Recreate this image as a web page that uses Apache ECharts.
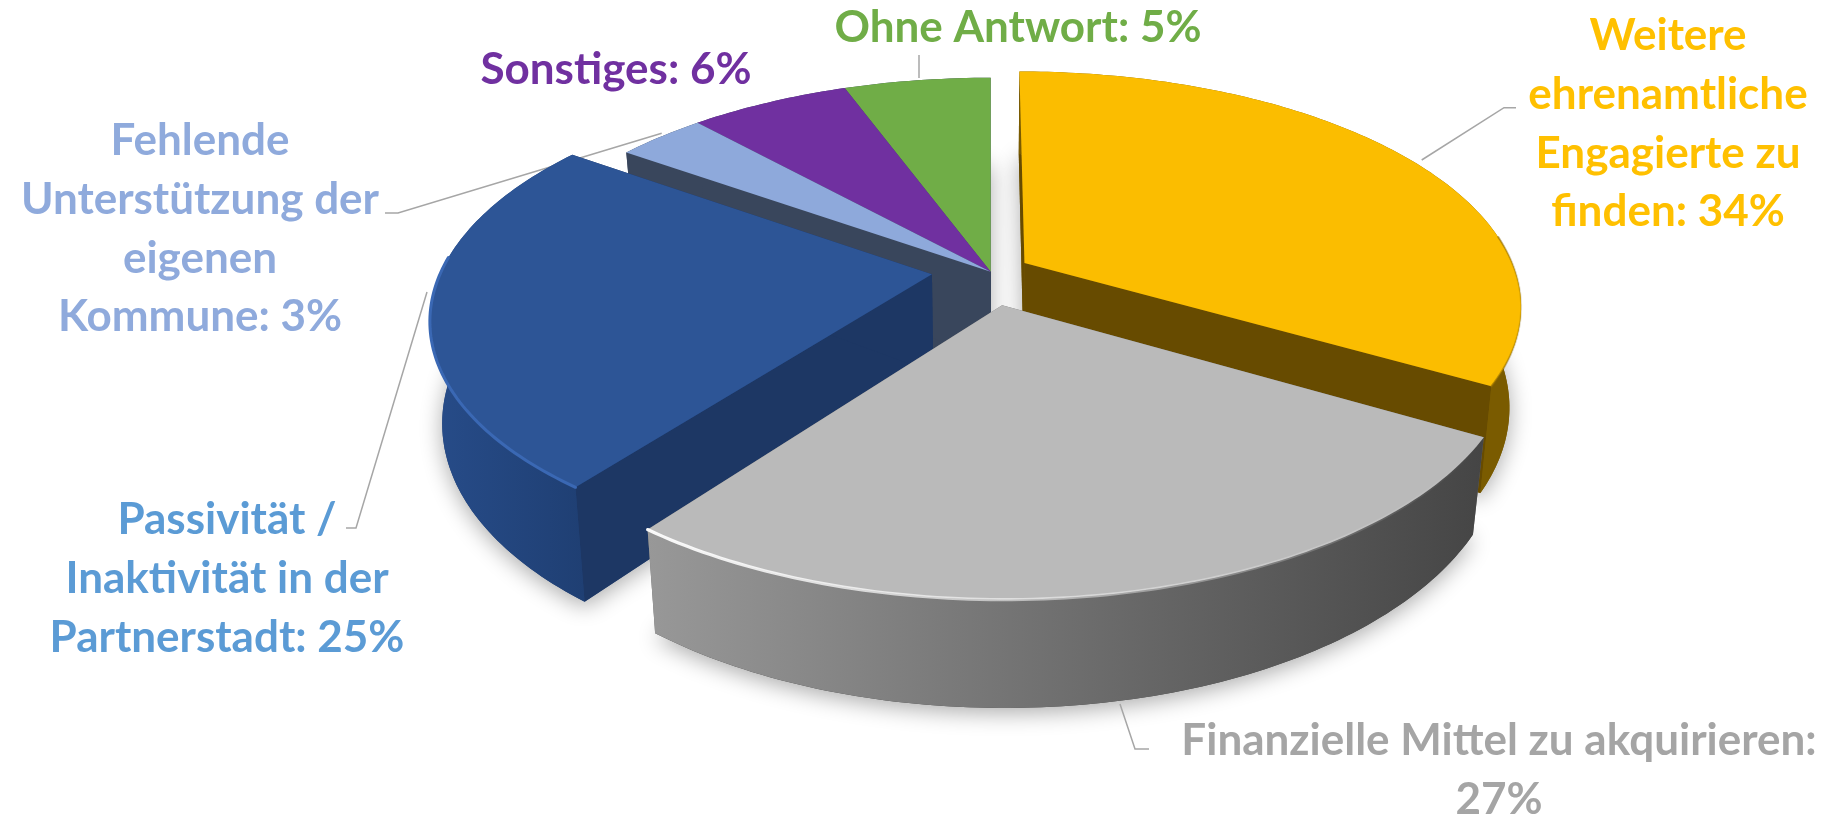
<!DOCTYPE html>
<html>
<head>
<meta charset="utf-8">
<style>html,body{margin:0;padding:0;background:#fff}#c{width:1829px;height:814px}</style>
<script src="https://cdn.jsdelivr.net/npm/echarts@6/dist/echarts.min.js"></script>
</head>
<body>
<div id="c"></div>
<script>
// --- data ---
const categories = [
  'Weitere ehrenamtliche Engagierte zu finden',
  'Finanzielle Mittel zu akquirieren',
  'Passivität / Inaktivität in der Partnerstadt',
  'Fehlende Unterstützung der eigenen Kommune',
  'Sonstiges',
  'Ohne Antwort'
];
const shares = [34, 27, 25, 3, 6, 5];
const labelLines = [
  ['Weitere', 'ehrenamtliche', 'Engagierte zu', 'finden: {v}%'],
  ['Finanzielle Mittel zu akquirieren:', '{v}%'],
  ['Passivität /', 'Inaktivität in der', 'Partnerstadt: {v}%'],
  ['Fehlende', 'Unterstützung der', 'eigenen', 'Kommune: {v}%'],
  ['Sonstiges: {v}%'],
  ['Ohne Antwort: {v}%']
];

// --- presentation ---
const view = { cx: 990.7, cy: 271.7, R: 491, b: 228.5, k: 0.178, h: 98, taper: 0.978 };
// small angular correction of the camera, degrees at given pie angles
const camera = [[0, 0], [122.4, 2.5], [219.6, 2.4], [309.6, 4.5], [320.4, 2.9], [342, 2.3], [360, 0]];
const looks = [
  { explode: .079, z: 20, top: '#fbbd00', text: '#ffc000', radial: '#674b00',
    wall: ['#7a5b00', '#7a5b00'], rim: [85, 122.4, 'rgba(120,90,0,.15)', 'rgba(150,110,0,.7)', 2] },
  { explode: .145, z: 40, depth: .88, top: '#bababa', text: '#a5a5a5', radial: '#6b6b6b',
    wall: ['#454545', '#989898'], rim: [125, 219.6, 'rgba(255,255,255,0)', 'rgba(255,255,255,.95)', 3.2] },
  { explode: .12, z: 30, top: '#2d5596', text: '#5b9bd5', radial: '#1d3764',
    wall: ['#1f3f73', '#274c89'], rim: [219.6, 278, '#3a68b4', '#3a68b4', 3] },
  { explode: 0, z: 12, top: '#8ea9db', text: '#8faadc', radial: '#39465c', wall: ['#39465c', '#39465c'] },
  { explode: 0, z: 11, top: '#7030a0', text: '#7030a0', radial: '#39465c', wall: ['#39465c', '#39465c'] },
  { explode: 0, z: 10, top: '#70ad47', text: '#70ad47', radial: '#39465c', wall: ['#39465c', '#39465c'] }
];
const textBoxes = [
  { x: 1668, y: 36 }, { x: 1499, y: 741 }, { x: 227, y: 520 },
  { x: 200, y: 141 }, { x: 616, y: 70 }, { x: 1018, y: 28 }
];
const leaders = [
  [[1421.7, 160], [1504, 107.7], [1516, 107.7]],
  [[1120, 704], [1135, 749], [1149, 749]],
  [[427, 292], [356, 528], [346, 528]],
  [[661.7, 133.3], [398, 213], [385, 213]],
  null,
  [[919, 78], [919, 55]]
];
const lineGap = 58.7;

function project(X, Y, lowDepth) {
  const w = 1 - view.k * Y;
  let sx = view.R * X / w, sy = view.b * Y / w;
  if (lowDepth) { sx *= view.taper; sy += view.h * lowDepth / w; }
  return [view.cx + sx, view.cy + sy];
}
function warped(a) {
  for (let i = 1; i < camera.length; i++) {
    if (a <= camera[i][0]) {
      const p = camera[i - 1], q = camera[i];
      return a - (p[1] + (q[1] - p[1]) * (a - p[0]) / (q[0] - p[0]));
    }
  }
  return a;
}
function arcPoints(a0, a1, off, lowDepth) {
  const pts = [], n = Math.max(2, Math.ceil(Math.abs(a1 - a0)));
  for (let i = 0; i <= n; i++) {
    const a = warped(a0 + (a1 - a0) * i / n) * Math.PI / 180;
    pts.push(project(Math.sin(a) + off[0], -Math.cos(a) + off[1], lowDepth));
  }
  return pts;
}
const total = shares.reduce((s, v) => s + v, 0);
let acc = 0;
const spans = shares.map(v => { const s = [acc / total * 360, (acc + v) / total * 360]; acc += v; return s; });

function renderSlice(params) {
  const i = params.dataIndex, [a0, a1] = spans[i], L = looks[i];
  const depth = L.depth || 1;
  const mid = (a0 + a1) / 2 * Math.PI / 180;
  const off = [Math.sin(mid) * L.explode, -Math.cos(mid) * L.explode];
  const apexTop = project(off[0], off[1], 0), apexLow = project(off[0], off[1], depth);
  const top = arcPoints(a0, a1, off, 0), low = arcPoints(a0, a1, off, depth);
  const kids = [];

  // soft ground shadow
  kids.push({ type: 'polygon', z2: 1, shape: { points: [apexLow].concat(low) },
    style: { fill: L.wall[0], shadowColor: 'rgba(0,0,0,.33)', shadowBlur: 22, shadowOffsetY: 5 } });
  // radial faces
  [[top[0], low[0]], [top[top.length - 1], low[low.length - 1]]].forEach(e => {
    kids.push({ type: 'polygon', z2: L.z, shape: { points: [apexTop, e[0], e[1], apexLow] },
      style: { fill: L.radial } });
  });
  // outer face
  kids.push({ type: 'polygon', z2: L.z + 1, shape: { points: top.concat(low.slice().reverse()) },
    style: { fill: { type: 'linear', x: 0, y: 0, x2: 1, y2: 0,
      colorStops: [{ offset: 0, color: L.wall[1] }, { offset: 1, color: L.wall[0] }] } } });
  // top face
  kids.push({ type: 'polygon', z2: L.z + 2, shape: { points: [apexTop].concat(top) },
    style: { fill: L.top } });
  // bevel on the rim
  if (L.rim) {
    const [r0, r1, c0, c1, lw] = L.rim;
    kids.push({ type: 'polyline', z2: L.z + 3, shape: { points: arcPoints(r0, r1, off, 0) },
      style: { fill: null, lineWidth: lw, lineCap: 'round',
        stroke: { type: 'linear', x: 0, y: 0, x2: 1, y2: 0,
          colorStops: [{ offset: 0, color: c1 }, { offset: 1, color: c0 }] } } });
  }
  // leader
  if (leaders[i]) {
    kids.push({ type: 'polyline', z2: 5, shape: { points: leaders[i] },
      style: { fill: null, stroke: '#a6a6a6', lineWidth: 1.5 } });
  }
  // label
  labelLines[i].forEach((t, n) => {
    kids.push({ type: 'text', z2: 70, style: {
      text: t.replace('{v}', shares[i]),
      x: textBoxes[i].x, y: textBoxes[i].y + n * lineGap,
      fill: L.text, font: 'bold 44px Lato', align: 'center', verticalAlign: 'middle' } });
  });
  return { type: 'group', children: kids };
}

const chart = echarts.init(document.getElementById('c'), null, { renderer: 'canvas' });
chart.setOption({
  animation: false,
  backgroundColor: '#ffffff',
  series: [{
    type: 'custom',
    coordinateSystem: 'none',
    silent: true,
    clip: false,
    renderItem: renderSlice,
    data: categories.map((name, i) => ({ name, value: shares[i] }))
  }]
});
</script>
</body>
</html>
